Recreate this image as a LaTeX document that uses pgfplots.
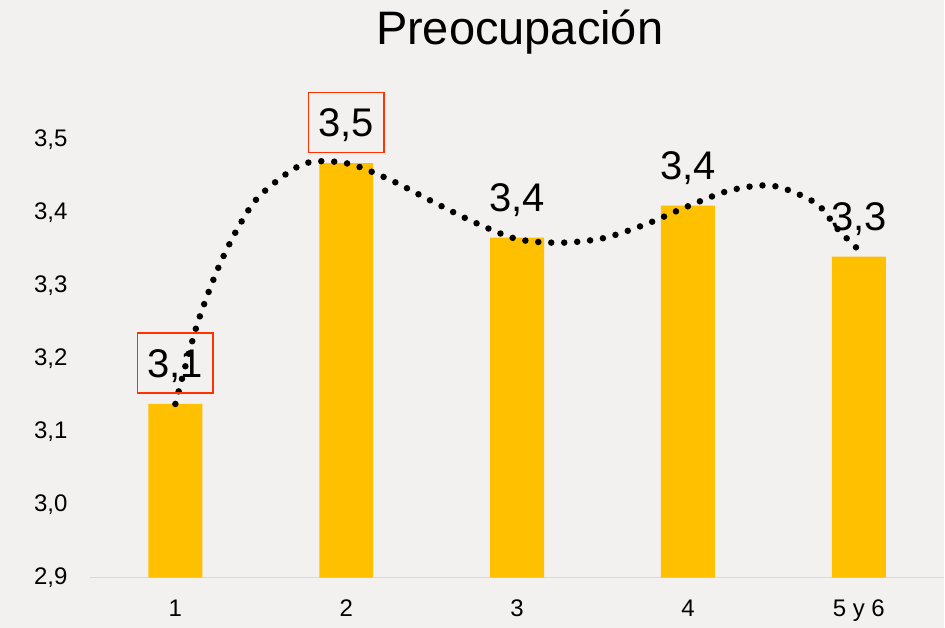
\documentclass[border=0pt]{standalone}
\usepackage{pgfplots}
\pgfplotsset{compat=1.18}
\usepackage{fontspec}
\setmainfont{Liberation Sans}
\definecolor{bargold}{RGB}{255,192,0}
\definecolor{bg}{RGB}{243,240,240}
\definecolor{axgray}{RGB}{217,217,217}
\definecolor{boxred}{RGB}{255,51,0}

\begin{document}
\begin{tikzpicture}
\fill[bg] (0,0) rectangle (945pt,628pt);
\node[font=\fontsize{47}{52}\selectfont] at (520pt,596pt) {Preocupación};
\begin{axis}[
  at={(90pt,50pt)}, anchor=south west,
  scale only axis, width=855pt, height=474.5pt,
  xmin=0.5, xmax=5.5, ymin=2.9, ymax=3.55,
  axis x line*=bottom, axis y line*=left,
  y axis line style={draw=none},
  x axis line style={axgray, line width=1.5pt},
  xtick={1,2,3,4,5}, xticklabels={1,2,3,4,5 y 6},
  ytick={2.9,3.0,3.1,3.2,3.3,3.4,3.5},
  major tick length=0pt,
  tick label style={font=\fontsize{24}{28}\selectfont},
  yticklabel style={xshift=-19pt, /pgf/number format/.cd, fixed, fixed zerofill, precision=1, use comma, assume math mode=true},
  xticklabel style={yshift=-19pt},
  clip=false,
]
% promedio por grupo
\addplot[ybar, bar width=54pt, fill=bargold, draw=none,
  nodes near coords={\pgfmathprintnumber[fixed,fixed zerofill,precision=1,use comma,assume math mode=true]{\pgfplotspointmeta}},
  point meta=y,
  every node near coord/.append style={font=\fontsize{40}{44}\selectfont, anchor=south, yshift=10pt,
    text height=30pt, text depth=2pt, inner xsep=10pt, inner ysep=14pt},
  coordinate style/.condition={x<2.5}{draw=boxred, line width=1.5pt},
] coordinates {(1,3.138) (2,3.468) (3,3.366) (4,3.410) (5,3.340)};
% linea de tendencia punteada
\addplot[black, line width=6.5pt, dash pattern=on 0pt off 13pt, line cap=round, smooth] coordinates {
  (1,3.138) (1.125,3.245) (1.25,3.324) (1.375,3.383) (1.5,3.425) (1.75,3.467)
  (2,3.468) (2.25,3.446) (2.5,3.416) (2.75,3.387) (3,3.364) (3.25,3.359)
  (3.5,3.365) (3.75,3.384) (4,3.409) (4.25,3.431) (4.5,3.437) (4.75,3.413)
  (4.875,3.378) (5,3.349)};
\end{axis}
\end{tikzpicture}
\end{document}
